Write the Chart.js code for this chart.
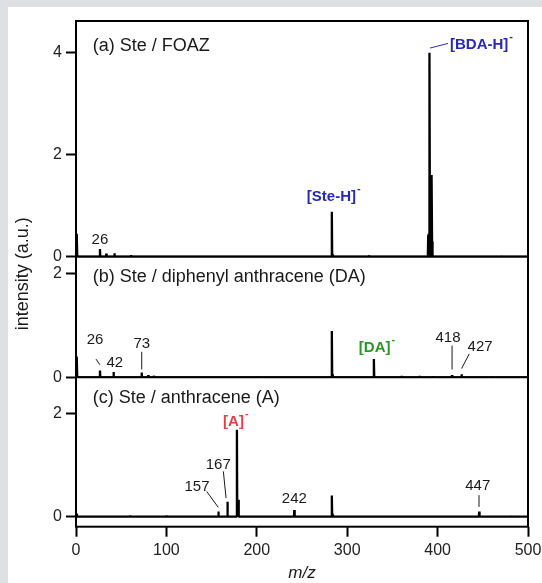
<!DOCTYPE html>
<html>
<head>
<meta charset="utf-8">
<script src="https://cdn.jsdelivr.net/npm/chart.js@4.4.0/dist/chart.umd.min.js"></script>
<style>
body { margin:0; width:542px; height:583px; background:#dfe0e3; overflow:hidden; }
#sheet { position:absolute; left:8px; top:7px; width:534px; height:576px; background:#fff; }
#box { position:absolute; left:0; top:0; width:542px; height:583px; }
</style>
</head>
<body>
<div id="sheet"></div>
<div id="box"><canvas id="specChart" width="542" height="583"></canvas></div>
<script>
// peaks (m/z, intensity a.u.)
var peakMzA  = [1, 26.5, 33.5, 42.5, 61, 100, 150, 283, 284, 324, 389.6, 390.4, 391.2, 392, 392.8, 393.6, 394.4, 421, 470];
var peakIntA = [0.45, 0.15, 0.06, 0.07, 0.03, 0.02, 0.02, 0.88, 0.05, 0.03, 0.42, 0.45, 4.0, 0.5, 0.45, 1.6, 0.3, 0.02, 0.02];

var peakMzB  = [1, 26.5, 41.5, 72.7, 80, 86, 150, 200, 283, 284, 329.5, 360, 380, 395, 416, 426.5, 460];
var peakIntB = [0.40, 0.13, 0.10, 0.09, 0.04, 0.03, 0.02, 0.02, 0.89, 0.06, 0.35, 0.03, 0.03, 0.02, 0.04, 0.06, 0.02];

var peakMzC  = [1, 60, 100, 157.5, 167.5, 178, 179.6, 241.5, 283, 284, 350, 446, 480];
var peakIntC = [0.06, 0.02, 0.03, 0.10, 0.29, 1.69, 0.33, 0.13, 0.41, 0.05, 0.02, 0.10, 0.02];

var ticksA = [0, 2, 4];
var ticksB = [0, 2];
var ticksC = [0, 2];
var ticksX = [0, 100, 200, 300, 400, 500];

var panelTitles = ['(a) Ste / FOAZ', '(b) Ste / diphenyl anthracene (DA)', '(c) Ste / anthracene (A)'];

var blue = '#2828b4', green = '#2a962a', red = '#e5404a';

// peak labels, placed in data units of each panel
var labelsA = [
  {text:'26', mz:26.5, y:0.33},
  {text:'[Ste-H]', mz:282.5, y:1.18, color:blue, ion:true},
  {text:'[BDA-H]', mz:446, y:4.15, color:blue, ion:true}
];
var linesA = [[391.6, 4.09, 411.5, 4.18, blue]];

var labelsB = [
  {text:'26', mz:21, y:0.72},
  {text:'42', mz:43, y:0.27},
  {text:'73', mz:72.7, y:0.64},
  {text:'[DA]', mz:330.4, y:0.56, color:green, ion:true},
  {text:'418', mz:411.5, y:0.76},
  {text:'427', mz:447, y:0.58}
];
var linesB = [[22.1, 0.35, 26.5, 0.24], [72.7, 0.49, 72.7, 0.15], [416, 0.61, 416, 0.15], [435, 0.45, 426.6, 0.17]];

var labelsC = [
  {text:'[A]', mz:174.2, y:1.85, color:red, ion:true},
  {text:'167', mz:157.4, y:1.0},
  {text:'157', mz:133.8, y:0.58},
  {text:'242', mz:241.5, y:0.34},
  {text:'447', mz:444.4, y:0.6}
];
var linesC = [[163, 0.88, 166, 0.36], [144.6, 0.49, 157.4, 0.18], [445.8, 0.42, 445.8, 0.19]];

var fontFam = '"Liberation Sans", Arial, sans-serif';

function sticks(mz, inten) {
  var pts = [{x:0, y:0}];
  for (var i = 0; i < mz.length; i++) {
    pts.push({x:mz[i] - 0.4, y:0});
    pts.push({x:mz[i], y:inten[i]});
    pts.push({x:mz[i] + 0.4, y:0});
  }
  pts.push({x:500, y:0});
  return pts;
}

function fixTicks(vals) {
  return function (s) { s.ticks = vals.map(function (v) { return {value:v}; }); };
}

function yAxis(weight, min, max, vals) {
  return {
    type:'linear', position:'left', stack:'spec', stackWeight:weight, min:min, max:max,
    afterBuildTicks: fixTicks(vals),
    afterFit: function (s) { s.width = 76; },
    grid: {drawOnChartArea:false, drawTicks:true, tickLength:10, tickWidth:2, tickColor:'#000'},
    border: {display:false},
    ticks: {color:'#222', padding:4, font:{family:fontFam, size:16}}
  };
}

var panels = [
  {axis:'yA', labels:labelsA, lines:linesA, title:panelTitles[0], level:4.13},
  {axis:'yB', labels:labelsB, lines:linesB, title:panelTitles[1], level:1.93},
  {axis:'yC', labels:labelsC, lines:linesC, title:panelTitles[2], level:2.31}
];

var decor = {
  id:'decor',
  afterDatasetsDraw: function (chart) {
    var ctx = chart.ctx, a = chart.chartArea, xs = chart.scales.x;
    ctx.save();
    ctx.strokeStyle = '#000';
    ctx.lineWidth = 2;
    ctx.strokeRect(a.left, a.top, a.right - a.left, a.bottom - a.top);
    ['yA', 'yB'].forEach(function (id) {
      var yb = chart.scales[id].bottom;
      ctx.beginPath(); ctx.moveTo(a.left, yb); ctx.lineTo(a.right, yb); ctx.stroke();
    });

    panels.forEach(function (p) {
      var ys = chart.scales[p.axis];
      ctx.fillStyle = '#1a1a1a';
      ctx.font = '18px ' + fontFam;
      ctx.textAlign = 'left';
      ctx.textBaseline = 'middle';
      ctx.fillText(p.title, xs.getPixelForValue(18.5), ys.getPixelForValue(p.level));

      p.lines.forEach(function (l) {
        ctx.strokeStyle = l[4] || '#1a1a1a';
        ctx.lineWidth = 1;
        ctx.beginPath();
        ctx.moveTo(xs.getPixelForValue(l[0]), ys.getPixelForValue(l[1]));
        ctx.lineTo(xs.getPixelForValue(l[2]), ys.getPixelForValue(l[3]));
        ctx.stroke();
      });

      p.labels.forEach(function (lb) {
        var px = xs.getPixelForValue(lb.mz), py = ys.getPixelForValue(lb.y);
        ctx.textAlign = 'center';
        ctx.fillStyle = lb.color || '#1a1a1a';
        ctx.font = (lb.ion ? 'bold 15px ' : '15px ') + fontFam;
        ctx.fillText(lb.text, px, py);
        if (lb.ion) {
          var w = ctx.measureText(lb.text).width;
          ctx.font = 'bold 11px ' + fontFam;
          ctx.textAlign = 'left';
          ctx.fillText('-', px + w / 2 + 1, py - 8);
        }
      });
    });

    // y title spans all three panels
    ctx.fillStyle = '#1a1a1a';
    ctx.font = '18px ' + fontFam;
    ctx.textAlign = 'center';
    ctx.textBaseline = 'middle';
    ctx.translate(23, (a.top + a.bottom) / 2);
    ctx.rotate(-Math.PI / 2);
    ctx.fillText('intensity (a.u.)', 0, 0);
    ctx.restore();
  }
};

var ds = function (pts, axis) {
  return {data:pts, yAxisID:axis, borderColor:'#000', borderWidth:2.3, pointRadius:0,
          tension:0, borderJoinStyle:'bevel', fill:false};
};

new Chart(document.getElementById('specChart'), {
  type:'line',
  data: {
    datasets: [
      ds(sticks(peakMzA, peakIntA), 'yA'),
      ds(sticks(peakMzB, peakIntB), 'yB'),
      ds(sticks(peakMzC, peakIntC), 'yC')
    ]
  },
  options: {
    responsive:false,
    animation:false,
    devicePixelRatio:1,
    parsing:false,
    layout: {padding:{left:0, top:21, right:14, bottom:0}},
    plugins: {legend:{display:false}, tooltip:{enabled:false}},
    scales: {
      x: {
        type:'linear', min:0, max:500,
        afterBuildTicks: fixTicks(ticksX),
        afterFit: function (s) { s.height = 56.3; s.paddingLeft = 0; s.paddingRight = 0; },
        grid: {drawOnChartArea:false, drawTicks:true, tickLength:10, tickWidth:2, tickColor:'#000'},
        border: {display:false},
        ticks: {color:'#222', padding:4, maxRotation:0, font:{family:fontFam, size:16}},
        title: {display:true, text:'m/z', color:'#1a1a1a', padding:{top:0, bottom:0},
                font:{family:fontFam, size:17, style:'italic'}}
      },
      // stacked axes fill from the bottom up, so panel (c) comes first
      yC: yAxis(149.4, -0.195, 2.71, ticksC),
      yB: yAxis(120.6, 0, 2.32, ticksB),
      yA: yAxis(235.7, 0, 4.62, ticksA)
    }
  },
  plugins:[decor]
});
</script>
</body>
</html>
